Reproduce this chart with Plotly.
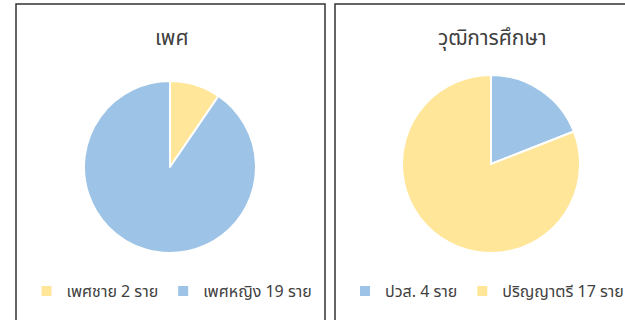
import plotly.graph_objects as go

# data
sex_labels = ["เพศชาย 2 ราย", "เพศหญิง 19 ราย"]
sex_values = [2, 19]
edu_labels = ["ปวส. 4 ราย", "ปริญญาตรี 17 ราย"]
edu_values = [4, 17]

BLUE = "#9DC3E6"
YELLOW = "#FFE699"
TEXT = "#404040"
FONT = "Leelawadee UI, Tahoma, Noto Sans Thai, Loma, Garuda, sans-serif"
W, H = 625, 320


def px_x(v):
    return v / W


def px_y(v):
    return 1 - v / H


fig = go.Figure()

fig.add_trace(go.Pie(
    labels=sex_labels, values=sex_values,
    marker=dict(colors=[YELLOW, BLUE], line=dict(color="white", width=2)),
    sort=False, direction="clockwise", rotation=0,
    textinfo="none", hoverinfo="label+value",
    domain=dict(x=[px_x(84), px_x(256)], y=[px_y(253), px_y(81)]),
    legend="legend",
))

fig.add_trace(go.Pie(
    labels=edu_labels, values=edu_values,
    marker=dict(colors=[BLUE, YELLOW], line=dict(color="white", width=2)),
    sort=False, direction="clockwise", rotation=0,
    textinfo="none", hoverinfo="label+value",
    domain=dict(x=[px_x(402), px_x(580)], y=[px_y(253), px_y(75)]),
    legend="legend2",
))

# panel frames
fig.add_shape(type="rect", xref="paper", yref="paper",
              x0=px_x(16), x1=px_x(325), y0=-0.05, y1=px_y(4),
              line=dict(color="#333333", width=1.5))
fig.add_shape(type="rect", xref="paper", yref="paper",
              x0=px_x(335), x1=1.1, y0=-0.05, y1=px_y(4),
              line=dict(color="#333333", width=1.5))

for txt, cx in [("เพศ", 172), ("วุฒิการศึกษา", 492)]:
    fig.add_annotation(text=txt, x=px_x(cx), y=px_y(39), xref="paper", yref="paper",
                       xanchor="center", yanchor="middle", showarrow=False,
                       font=dict(size=21, color=TEXT, family=FONT))

legend_style = dict(orientation="h", yanchor="middle",
                    font=dict(size=16, color=TEXT, family=FONT),
                    bgcolor="rgba(0,0,0,0)", itemwidth=30)

fig.update_layout(
    width=W, height=H,
    margin=dict(l=0, r=0, t=0, b=0, autoexpand=False),
    paper_bgcolor="white",
    font=dict(family=FONT),
    showlegend=True,
    legend=dict(x=px_x(172), y=px_y(291), xanchor="center", **legend_style),
    legend2=dict(x=px_x(345), y=px_y(291), xanchor="left", **legend_style),
)

page_fix = (
    "document.body.style.margin='0';"
    "document.body.style.overflow='hidden';"
    "document.documentElement.style.overflow='hidden';"
)
fig.write_html("out.html", config={"displayModeBar": False}, post_script=page_fix)
